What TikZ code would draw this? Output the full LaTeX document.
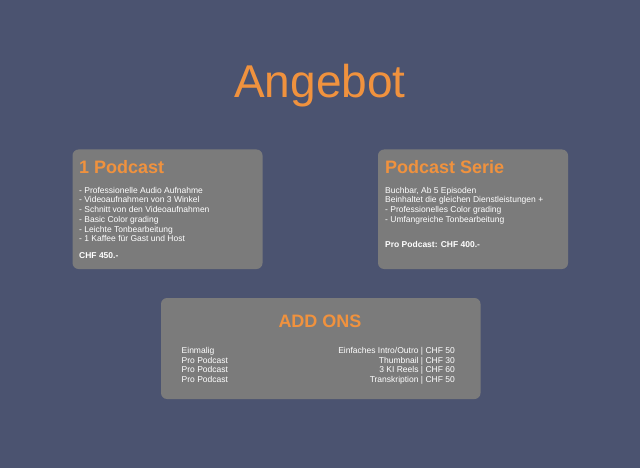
\documentclass[tikz,border=0pt]{standalone}
\usepackage{fontspec}
\setmainfont{Liberation Sans}
\usepackage{tikz}
\definecolor{slate}{RGB}{75,83,112}
\definecolor{card}{RGB}{123,123,123}
\definecolor{offer}{RGB}{240,146,62}
\tikzset{every picture/.style={x=1pt,y=-1pt}}
\tikzset{
  cardbox/.style={fill=card, rounded corners=6pt, draw=none},
  headline/.style={text=offer, font=\bfseries\fontsize{18}{20}\selectfont, inner sep=0pt, anchor=base west},
  body/.style={text=white, font=\fontsize{8.5}{10}\selectfont, inner sep=0pt, anchor=base west},
  bodyb/.style={body, font=\bfseries\fontsize{8.5}{10}\selectfont}
}

\begin{document}
\begin{tikzpicture}
    % Background
    \fill[slate] (0,0) rectangle (640,468);
    \useasboundingbox (0,0) rectangle (640,468);
    \node[text=offer, font=\fontsize{46}{50}\selectfont, inner sep=0pt, anchor=base] (title) at (320,98) {Angebot};
    % Cards
    \fill[cardbox] (72.5,149.5) rectangle (262.5,269) coordinate (c1);
    \fill[cardbox] (378,149.5) rectangle (568,269) coordinate (c2);
    \fill[cardbox] (161,298) rectangle (480.5,399) coordinate (c3);
    % 1 Podcast
    \node[headline] (one) at (79,174) {1 Podcast};
    \foreach \t [count=\i] in {- Professionelle Audio Aufnahme, - Videoaufnahmen von 3 Winkel,
        - Schnitt von den Videoaufnahmen, - Basic Color grading, - Leichte Tonbearbeitung,
        - 1 Kaffee für Gast und Host}
      \node[body] (one\i) at (79,183.5+9.7*\i) {\t};
    \node[bodyb] (oneprice) at (79,258.5) {CHF 450.-};
    % Podcast Serie
    \node[headline] (serie) at (385,174) {Podcast Serie};
    \foreach \t [count=\i] in {{Buchbar, Ab 5 Episoden}, Beinhaltet die gleichen Dienstleistungen +,
        - Professionelles Color grading, - Umfangreiche Tonbearbeitung}
      \node[body] (serie\i) at (385,183.5+9.7*\i) {\t};
    \node[bodyb] (serieprice) at (385,247.5) {Pro Podcast: CHF 400.-};
    % Add ons
    \node[headline, anchor=base] (addons) at (320,327) {ADD ONS};
    \foreach \l/\r [count=\i] in {Einmalig/{Einfaches Intro/Outro | CHF 50}, Pro Podcast/Thumbnail | CHF 30,
        Pro Podcast/3 KI Reels | CHF 60, Pro Podcast/Transkription | CHF 50} {
      \node[body] (when\i) at (181.5,343.6+9.75*\i) {\l};
      \node[body, anchor=base east] (what\i) at (455,343.6+9.75*\i) {\r};
    }
\end{tikzpicture}
\end{document}
